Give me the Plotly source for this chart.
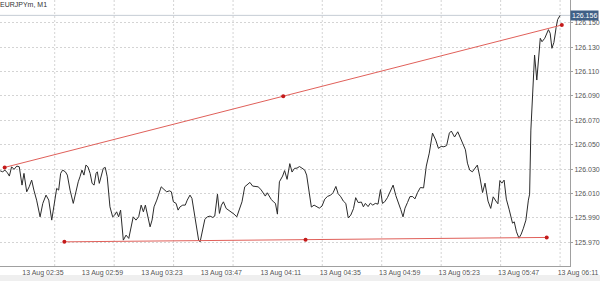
import plotly.graph_objects as go

# ---- data (minutes after 13 Aug 02:25, M1 close prices) ----
minutes = [0, 1.0, 1.9, 2.9, 3.7, 4.6, 5.6, 6.7, 7.7, 8.8, 9.6, 10.7, 11.7, 12.7, 13.6, 14.7, 16.1, 17.2, 18.5, 19.6,
           20.8, 21.7, 22.8, 23.6, 24.4, 25.2, 26.3, 27.1, 28.2, 29.5, 30.6, 31.5, 32.2, 33.0, 33.8, 34.6, 35.4, 36.3,
           37.1, 37.9, 38.7, 39.2, 40.0, 40.8, 41.6, 42.4, 43.2, 44.3, 45.4, 46.2, 47.0, 47.8, 48.6, 49.7, 50.8, 51.9,
           52.7, 53.7, 54.8, 55.9, 56.9, 57.8, 58.6, 59.4, 60.5, 61.3, 62.1, 63.2, 64.2, 65.0, 66.1, 67.2, 68.3, 69.1,
           69.9, 71.0, 71.8, 72.6, 73.7, 74.7, 75.5, 76.6, 77.4, 78.2, 79.3, 80.1, 80.7, 81.8, 82.6, 83.6, 84.7, 85.8,
           86.6, 87.7, 88.5, 89.3, 90.1, 91.2, 92.2, 93.3, 94.4, 95.5, 96.5, 97.6, 98.7, 99.8, 100.8, 101.9, 103.0,
           104.1, 105.2, 106.2, 107.0, 107.8, 108.6, 109.4, 110.3, 111.1, 111.9, 112.7, 114.0, 114.8, 115.8, 116.9,
           117.8, 118.8, 119.8, 120.8, 121.8, 122.9, 123.7, 124.5, 125.6, 126.7, 127.8, 128.8, 129.9, 131.0, 132.1,
           133.4, 134.4, 135.5, 136.4, 137.5, 138.5, 139.5, 140.5, 141.5, 142.6, 143.5, 144.5, 145.8, 146.6, 147.4,
           148.5, 149.4, 150.4, 151.4, 152.5, 153.5, 154.3, 155.2, 156.3, 157.5, 158.6, 159.7, 160.8, 161.7, 162.6,
           163.4, 164.4, 165.4, 166.5, 167.4, 168.5, 169.6, 170.9, 172.0, 173.2, 174.5, 175.8, 176.9, 178.0, 179.1,
           180.2, 181.3, 182.1, 183.4, 184.7, 185.6, 186.7, 187.8, 188.6, 189.5, 190.6, 192.6, 193.6, 194.7, 195.7,
           196.9, 198.0, 199.0, 200.1, 200.9, 201.7, 202.5, 203.4, 204.3, 205.4, 206.2, 206.8, 207.5, 208.4, 209.4,
           210.3, 211.2, 212.2, 213.2, 213.7, 214.2, 215.0, 215.7, 216.6, 217.5, 218.0, 218.7, 219.8, 221.3, 222.0,
           222.7, 223.5, 224.4, 225.0, 226.0]
prices = [126.0286, 126.0278, 126.0292, 126.0270, 126.0243, 126.0319, 126.0298, 126.0325, 126.0319, 126.0169,
          126.0265, 126.0114, 126.0155, 126.0210, 126.0128, 126.0046, 125.9909, 126.0019, 126.0087, 126.0046,
          125.9882, 125.9991, 126.0142, 126.0128, 126.0265, 126.0292, 126.0278, 126.0251, 126.0128, 126.0019,
          126.0128, 126.0196, 126.0237, 126.0292, 126.0251, 126.0333, 126.0319, 126.0265, 126.0183, 126.0169,
          126.0265, 126.0278, 126.0183, 126.0237, 126.0306, 126.0314, 126.0237, 125.9991, 125.9909, 125.9923,
          125.9950, 125.9909, 125.9964, 125.9718, 125.9759, 125.9732, 125.9800, 125.9909, 125.9882, 125.9909,
          126.0005, 125.9950, 126.0005, 125.9937, 125.9827, 125.9882, 125.9991, 126.0046, 126.0114, 126.0155,
          126.0134, 126.0114, 126.0122, 126.0114, 126.0032, 126.0019, 125.9964, 125.9991, 126.0005, 126.0005,
          126.0046, 126.0087, 126.0060, 125.9950, 125.9827, 125.9718, 125.9704, 125.9800, 125.9888, 125.9909,
          125.9915, 125.9904, 125.9915, 126.0095, 125.9937, 126.0005, 126.0032, 125.9978, 125.9964, 125.9950,
          125.9931, 125.9909, 125.9964, 126.0032, 126.0155, 126.0177, 126.0191, 126.0161, 126.0155, 126.0155,
          126.0134, 126.0101, 126.0079, 126.0106, 126.0073, 126.0052, 126.0032, 126.0019, 125.9931, 126.0196,
          126.0243, 126.0288, 126.0216, 126.0345, 126.0276, 126.0306, 126.0308, 126.0321, 126.0308, 126.0292,
          126.0251, 126.0128, 125.9989, 126.0005, 125.9994, 125.9980, 125.9997, 126.0054, 126.0076, 126.0087,
          126.0108, 126.0158, 126.0099, 126.0073, 126.0038, 126.0019, 125.9900, 125.9923, 125.9976, 126.0066,
          126.0026, 126.0030, 125.9991, 126.0019, 125.9993, 126.0021, 126.0005, 126.0019, 126.0013, 126.0132,
          126.0019, 126.0032, 126.0066, 126.0120, 126.0169, 126.0083, 126.0026, 125.9968, 125.9909, 125.9980,
          126.0026, 126.0075, 126.0075, 126.0056, 126.0109, 126.0149, 126.0146, 126.0325, 126.0431, 126.0595,
          126.0538, 126.0470, 126.0486, 126.0483, 126.0493, 126.0595, 126.0612, 126.0563, 126.0606, 126.0559,
          126.0511, 126.0458, 126.0349, 126.0292, 126.0278, 126.0333, 126.0237, 126.0108, 126.0185, 126.0038,
          125.9978, 126.0073, 126.0038, 126.0016, 126.0206, 126.0185, 126.0210, 126.0054, 125.9972, 125.9907,
          125.9857, 125.9868, 125.9786, 125.9734, 125.9767, 125.9816, 125.9882, 126.0046, 126.0095, 126.0620,
          126.0975, 126.1235, 126.1030, 126.1303, 126.1372, 126.1344, 126.1372, 126.1443, 126.1413, 126.1290,
          126.1338, 126.1461, 126.1525, 126.1560]

current_price = 126.156

# trend lines (start, end)
trend_up_min = [1.8, 226.7]
trend_up_price = [126.0314, 126.1481]
trend_low_min = [25.9, 220.6]
trend_low_price = [125.9704, 125.9740]

# axes
x_tick_min = [10, 34, 58, 82, 106, 130, 154, 178, 202, 226]
x_tick_text = ["13 Aug 02:35", "13 Aug 02:59", "13 Aug 03:23", "13 Aug 03:47", "13 Aug 04:11",
               "13 Aug 04:35", "13 Aug 04:59", "13 Aug 05:23", "13 Aug 05:47", "13 Aug 06:11"]
x_grid_min = [22, 46, 70, 94, 130, 154, 178, 202, 226]
y_ticks = [125.970, 125.990, 126.010, 126.030, 126.050, 126.070, 126.090, 126.110, 126.130, 126.150]

FONT = "Liberation Sans, Arial, sans-serif"
RED = "#e0605a"
DOT = "#c41a1a"

fig = go.Figure()

fig.add_trace(go.Scatter(x=minutes, y=prices, mode="lines",
                         line=dict(color="#2b2b2b", width=1), hoverinfo="skip"))


def with_mid(xs, ys):
    return [xs[0], (xs[0] + xs[1]) / 2, xs[1]], [ys[0], (ys[0] + ys[1]) / 2, ys[1]]


for xs, ys in [(trend_up_min, trend_up_price), (trend_low_min, trend_low_price)]:
    mx, my = with_mid(xs, ys)
    fig.add_trace(go.Scatter(x=mx, y=my, mode="lines",
                             line=dict(color=RED, width=1), hoverinfo="skip"))
    fig.add_trace(go.Scatter(x=mx, y=my, mode="markers",
                             marker=dict(color=DOT, size=4, symbol="circle"), hoverinfo="skip"))

shapes = []
for g in x_grid_min:
    shapes.append(dict(type="line", xref="x", yref="paper", x0=g, x1=g, y0=0, y1=1,
                       line=dict(color="#d4d4d4", width=1, dash="2px,2px"), layer="below"))
# bid line
shapes.append(dict(type="line", xref="paper", yref="y", x0=0, x1=1, y0=current_price, y1=current_price,
                   line=dict(color="#c5ccd4", width=1), layer="below"))
# bottom scroll band
shapes.append(dict(type="rect", xref="paper", yref="paper", x0=-0.01, x1=1.06, y0=-0.06, y1=-0.034,
                   fillcolor="#efefef", line=dict(width=0), layer="below"))

fig.update_layout(
    width=600, height=281,
    margin=dict(l=0, r=30, t=0, b=15),
    paper_bgcolor="white", plot_bgcolor="white",
    showlegend=False,
    font=dict(family=FONT, size=7, color="#555555"),
    shapes=shapes,
    xaxis=dict(range=[-0.08, 230.0], tickvals=x_tick_min, ticktext=x_tick_text,
               showgrid=False, zeroline=False, showline=True, linecolor="#a0a0a0", linewidth=1,
               ticks="", ticklabelshift=18, ticklabeloverflow="allow",
               tickfont=dict(size=7, color="#555555")),
    yaxis=dict(range=[125.9506, 126.1686], side="right", tickvals=y_ticks,
               ticktext=[f"{v:.3f}" for v in y_ticks],
               showgrid=True, gridcolor="#d4d4d4", griddash="2px,2px", gridwidth=1,
               zeroline=False, showline=True, linecolor="#a0a0a0", linewidth=1,
               ticks="outside", ticklen=2, tickcolor="#a0a0a0",
               tickfont=dict(size=7, color="#555555")),
    annotations=[
        dict(text="EURJPYm, M1", xref="paper", yref="paper", x=0, y=1, xanchor="left", yanchor="top",
             xshift=-2, yshift=1, showarrow=False, font=dict(size=7, color="#333333", family=FONT)),
        dict(text=f"{current_price:.3f}", xref="paper", yref="y", x=1, y=current_price,
             xanchor="left", yanchor="middle", xshift=0, showarrow=False,
             bgcolor="#3f5f86", borderpad=1, font=dict(size=7, color="white", family=FONT)),
    ],
)

fig.write_html("out.html")
